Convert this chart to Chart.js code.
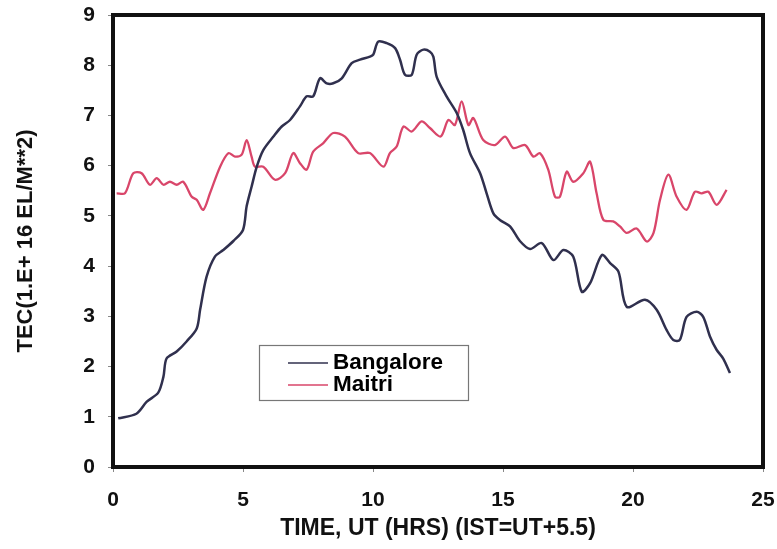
<!DOCTYPE html>
<html>
<head>
<meta charset="utf-8">
<script src="https://cdn.jsdelivr.net/npm/chart.js@4"></script>
<style>
  html, body { margin: 0; padding: 0; background: #ffffff; }
  canvas { display: block; }
</style>
</head>
<body>
<canvas id="tec" width="777" height="549"></canvas>
<script>
// Total electron content over one day, two stations
const xTicks = [0, 5, 10, 15, 20, 25];
const yTicks = [0, 1, 2, 3, 4, 5, 6, 7, 8, 9];

const bangaloreTime = [0.2, 0.9, 1.3, 1.74, 1.94, 2.06, 2.45, 2.83, 3.22, 3.35, 3.6, 3.92, 4.24, 4.63, 5.0,
  5.14, 5.33, 5.53, 5.78, 6.17, 6.49, 6.81, 7.19, 7.45, 7.7, 7.96, 8.22, 8.47, 8.8, 9.18, 9.5, 9.88,
  10.01, 10.2, 10.53, 10.85, 11.04, 11.23, 11.49, 11.68, 11.94, 12.19, 12.32, 12.45, 12.83, 13.22,
  13.47, 13.73, 14.12, 14.37, 14.63, 14.88, 15.27, 15.65, 16.04, 16.49, 16.94, 17.32, 17.7, 18.03,
  18.35, 18.8, 19.12, 19.44, 19.76, 20.46, 20.91, 21.29, 21.55, 21.8, 22.06, 22.45, 22.7, 22.96,
  23.22, 23.47, 23.73];
const bangaloreTec = [0.97, 1.06, 1.3, 1.48, 1.8, 2.16, 2.3, 2.5, 2.76, 3.13, 3.79, 4.19, 4.32, 4.5, 4.72,
  5.19, 5.58, 5.98, 6.31, 6.58, 6.78, 6.91, 7.18, 7.38, 7.38, 7.74, 7.64, 7.64, 7.74, 8.04, 8.11, 8.17,
  8.21, 8.47, 8.44, 8.34, 8.11, 7.81, 7.81, 8.21, 8.31, 8.27, 8.17, 7.77, 7.38, 7.05,
  6.71, 6.25, 5.85, 5.45, 5.05, 4.92, 4.79, 4.5, 4.34, 4.46, 4.12, 4.32, 4.19, 3.49,
  3.66, 4.22, 4.06, 3.89, 3.19, 3.33, 3.13, 2.73, 2.53, 2.53, 2.99, 3.09, 2.99, 2.6,
  2.33, 2.16, 1.87];

const maitriTime = [0.14, 0.46, 0.78, 1.1, 1.42, 1.68, 1.94, 2.19, 2.45, 2.7, 3.03, 3.22, 3.47, 3.73, 4.12,
  4.44, 4.69, 4.95, 5.14, 5.33, 5.46, 5.78, 6.23, 6.62, 6.93, 7.19, 7.45, 7.7, 8.09, 8.47, 8.92, 9.43,
  9.88, 10.4, 10.65, 10.91, 11.17, 11.49, 11.87, 12.19, 12.6, 12.9, 13.15, 13.41, 13.67, 13.86, 14.24,
  14.69, 15.08, 15.4, 15.85, 16.17, 16.42, 16.74, 17.0, 17.19, 17.45, 17.7, 18.09, 18.35, 18.6, 18.86,
  19.24, 19.5, 19.76, 20.14, 20.53, 20.79, 21.04, 21.36, 21.68, 22.06, 22.38, 22.64, 22.9, 23.22, 23.6];
const maitriTec = [5.45, 5.45, 5.85, 5.85, 5.62, 5.75, 5.62, 5.68, 5.62, 5.68, 5.38, 5.32, 5.12, 5.45, 5.98,
  6.25, 6.18, 6.22, 6.51, 6.18, 5.98, 5.98, 5.72, 5.85, 6.25, 6.05, 5.92, 6.28, 6.45, 6.65, 6.58, 6.25,
  6.25, 5.98, 6.25, 6.38, 6.78, 6.68, 6.88, 6.75, 6.58, 6.91, 6.81, 7.28, 6.81, 6.95, 6.51,
  6.41, 6.58, 6.35, 6.41, 6.18, 6.25, 5.92, 5.38, 5.38, 5.88, 5.68, 5.85, 6.08, 5.45, 4.92,
  4.89, 4.79, 4.66, 4.75, 4.49, 4.66, 5.32, 5.82, 5.38, 5.12, 5.48, 5.45, 5.48, 5.22, 5.52];

const seriesNames = ['Bangalore', 'Maitri'];
const seriesColors = ['#30304e', '#d9466a'];

const toPoints = (xs, ys) => xs.map((x, i) => ({ x: x, y: ys[i] }));

const FONT = "'Liberation Sans', Arial, Helvetica, sans-serif";

// Fixed axis box sizes; label overhang is allowed to spill past the plot edges
const fixBox = (size, vertical) => s => {
  if (vertical) s.width = size; else s.height = size;
  s.paddingTop = s.paddingBottom = s.paddingLeft = s.paddingRight = 0;
};

// Heavy black frame round the plot area
const frame = {
  id: 'frame',
  afterDatasetsDraw(chart) {
    const a = chart.chartArea, ctx = chart.ctx;
    ctx.save();
    ctx.strokeStyle = '#111111';
    ctx.lineWidth = 4;
    ctx.strokeRect(a.left, a.top, a.right - a.left, a.bottom - a.top);
    ctx.restore();
  }
};

// Boxed key inside the plot, lower middle
const keyBox = {
  id: 'keyBox',
  afterDraw(chart) {
    const a = chart.chartArea, ctx = chart.ctx;
    const x0 = a.left + 146, y0 = a.top + 330, w = 209, h = 55;
    ctx.save();
    ctx.fillStyle = '#ffffff';
    ctx.fillRect(x0, y0, w, h);
    ctx.strokeStyle = '#777777';
    ctx.lineWidth = 1.2;
    ctx.strokeRect(x0 + 0.5, y0 + 0.5, w, h);
    ctx.font = 'bold 22.5px ' + FONT;
    ctx.textBaseline = 'middle';
    chart.data.datasets.forEach((ds, i) => {
      const yy = y0 + 18 + i * 22;
      ctx.strokeStyle = ds.borderColor;
      ctx.lineWidth = 1.5;
      ctx.beginPath();
      ctx.moveTo(x0 + 29, yy);
      ctx.lineTo(x0 + 69, yy);
      ctx.stroke();
      ctx.fillStyle = '#000000';
      ctx.fillText(ds.label, x0 + 74, yy);
    });
    ctx.restore();
  }
};

new Chart(document.getElementById('tec'), {
  type: 'line',
  data: {
    datasets: [
      { label: seriesNames[0], data: toPoints(bangaloreTime, bangaloreTec), borderColor: seriesColors[0],
        borderWidth: 2.5, pointRadius: 0, tension: 0.3, fill: false },
      { label: seriesNames[1], data: toPoints(maitriTime, maitriTec), borderColor: seriesColors[1],
        borderWidth: 2.3, pointRadius: 0, tension: 0.3, fill: false }
    ]
  },
  options: {
    responsive: false,
    animation: false,
    devicePixelRatio: 1,
    layout: { autoPadding: false, padding: { top: 15, right: 14, left: 0, bottom: 0 } },
    plugins: { legend: { display: false }, tooltip: { enabled: false } },
    scales: {
      x: {
        type: 'linear', min: 0, max: 25,
        afterBuildTicks: s => { s.ticks = xTicks.map(v => ({ value: v })); },
        afterFit: fixBox(82, false),
        grid: { drawOnChartArea: false, tickLength: 5, color: '#888888' },
        border: { display: false },
        ticks: { color: '#111111', padding: 16, maxRotation: 0, font: { family: FONT, size: 21, weight: 'bold' } },
        title: { display: true, text: 'TIME, UT (HRS) (IST=UT+5.5)', color: '#111111',
          padding: { top: 0, bottom: 7 }, font: { family: FONT, size: 23, weight: 'bold' } }
      },
      y: {
        type: 'linear', min: 0, max: 9,
        afterBuildTicks: s => { s.ticks = yTicks.map(v => ({ value: v })); },
        afterFit: fixBox(113, true),
        grid: { drawOnChartArea: false, tickLength: 5, color: '#888888' },
        border: { display: false },
        ticks: { color: '#111111', padding: 13, font: { family: FONT, size: 21, weight: 'bold' } },
        title: { display: true, text: 'TEC(1.E+ 16 EL/M**2)', color: '#111111',
          padding: { top: 13, bottom: 0 }, font: { family: FONT, size: 22, weight: 'bold' } }
      }
    }
  },
  plugins: [frame, keyBox]
});
</script>
</body>
</html>
